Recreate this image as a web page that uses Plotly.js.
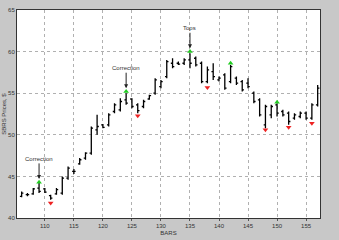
<!DOCTYPE html>
<html><head><meta charset="utf-8">
<script src="https://cdn.plot.ly/plotly-3.0.1.min.js"></script>
<style>html,body{margin:0;padding:0;background:#c8c8c8;}#chart{width:339px;height:240px;}</style>
</head><body><div id="chart"></div>
<script>
const bars   = [106,107,108,109,110,111,112,113,114,115,116,117,118,119,120,121,122,123,124,125,126,127,128,129,130,131,132,133,134,135,136,137,138,139,140,141,142,143,144,145,146,147,148,149,150,151,152,153,154,155,156,157];
const opens  = [42.6,42.8,42.9,43.6,43.5,42.7,42.9,43.0,44.8,45.6,46.5,47.2,47.8,50.6,51.2,51.2,52.8,53.0,54.2,54.3,53.6,53.4,54.3,55.0,55.8,57.0,58.6,58.6,58.6,59.0,59.2,58.6,56.4,57.6,56.6,57.2,56.4,56.8,56.4,56.2,55.0,54.2,51.2,52.4,53.6,52.8,52.6,52.0,52.2,52.6,52.0,53.6];
const highs  = [43.2,43.0,43.6,44.2,43.6,42.8,43.6,45.0,46.2,45.9,47.2,47.9,51.0,52.4,51.3,52.6,53.8,54.4,55.0,54.4,53.8,54.2,54.8,56.8,56.6,59.0,59.2,58.8,59.2,59.8,59.4,58.8,58.2,58.6,57.0,57.4,58.4,57.0,56.6,56.8,55.2,54.4,53.6,53.6,53.8,53.0,52.8,52.6,52.8,52.8,53.8,56.0];
const lows   = [42.5,42.6,42.8,43.0,43.0,42.2,42.8,42.8,44.6,45.3,46.4,47.0,47.6,50.0,50.8,51.0,52.6,52.8,53.6,53.2,52.6,53.2,54.2,54.8,55.6,56.8,58.0,58.4,58.4,58.0,58.2,56.2,56.2,56.6,56.4,55.4,56.2,56.0,55.2,55.6,53.8,52.2,50.8,52.0,52.2,52.2,51.2,51.8,52.0,51.8,51.8,53.4];
const closes = [43.0,42.8,43.5,43.2,43.1,42.4,43.4,44.8,46.0,45.6,47.0,47.8,50.8,51.0,50.9,52.4,53.6,54.0,53.8,53.4,52.9,54.0,54.7,56.6,56.4,58.8,58.2,58.5,59.0,58.6,58.4,56.4,57.8,57.0,56.8,55.6,58.2,56.2,55.4,55.8,54.0,52.4,53.4,53.4,52.6,52.4,51.6,52.4,52.6,52.0,53.6,55.6];

const upBars   = [109,124,135,142,150];
const upVals   = [44.3,55.2,60.0,58.6,53.9];
const downBars = [111,126,138,148,152,156];
const downVals = [41.8,52.3,55.7,50.6,50.9,51.4];

const noteBars  = [109,124,135];
const noteVals  = [44.7,55.6,60.4];
const noteTexts = ["Correction","Correction","Tops"];

const xTicks = [110,115,120,125,130,135,140,145,150,155];
const yTicks = [40,45,50,55,60,65];

const font = {family:"Liberation Sans, Arial, sans-serif", size:6, color:"#333"};

const traces = [
  {type:"ohlc", x:bars, open:opens, high:highs, low:lows, close:closes,
   increasing:{line:{color:"#000", width:1.3}}, decreasing:{line:{color:"#000", width:1.3}},
   tickwidth:0.3, showlegend:false, hoverinfo:"skip"},
  {type:"scatter", mode:"markers", x:upBars, y:upVals,
   marker:{symbol:"triangle-up", size:5, color:"#22cc22"}, showlegend:false},
  {type:"scatter", mode:"markers", x:downBars, y:downVals,
   marker:{symbol:"triangle-down", size:5, color:"#ee2222"}, showlegend:false}
];

const annotations = noteBars.map((b,i)=>({
  x:b, y:noteVals[i], xref:"x", yref:"y", text:noteTexts[i],
  showarrow:true, arrowhead:2, arrowsize:0.8, arrowwidth:1, arrowcolor:"#222",
  ax:0, ay:-20, font:font
}));

const layout = {
  width:339, height:240,
  margin:{l:17, r:19, t:10, b:22},
  paper_bgcolor:"#c8c8c8", plot_bgcolor:"#ffffff",
  showlegend:false,
  font:font,
  xaxis:{range:[105.2,157.4], tickvals:xTicks, ticktext:xTicks.map(String),
    showgrid:true, gridcolor:"#b0b0b0", griddash:"dot", gridwidth:1,
    showline:true, mirror:true, linecolor:"#333", linewidth:1,
    ticks:"outside", ticklen:2, tickcolor:"#555",
    zeroline:false, rangeslider:{visible:false}, tickfont:font,
    title:{text:"BARS", font:font, standoff:2}},
  yaxis:{range:[40,65], tickvals:yTicks, ticktext:yTicks.map(String),
    showgrid:true, gridcolor:"#b0b0b0", griddash:"dot", gridwidth:1,
    showline:true, mirror:true, linecolor:"#333", linewidth:1,
    ticks:"", zeroline:false, tickfont:font,
    title:{text:"SBRS Prices, $", font:font, standoff:1}},
  annotations:annotations
};

Plotly.newPlot("chart", traces, layout, {displayModeBar:false, staticPlot:true});
</script></body></html>
